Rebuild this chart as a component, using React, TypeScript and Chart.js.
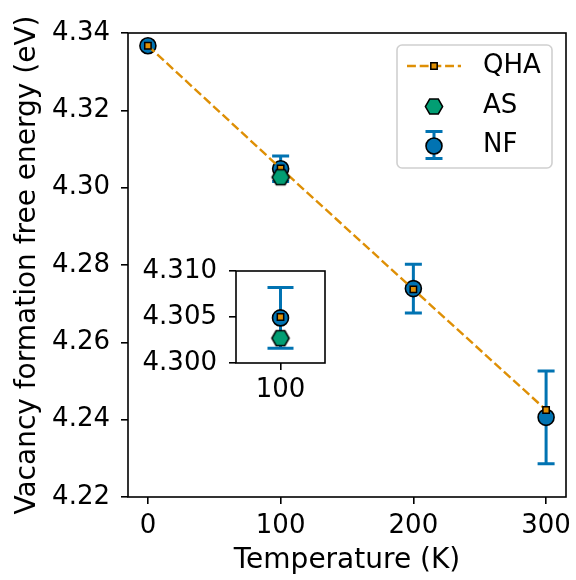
import React, { useEffect, useRef } from "react";
import { Chart, registerables } from "chart.js";

Chart.register(...registerables);

// ---- data ----
const temperatures = [0, 100, 200, 300];
const qhaEnergy = [4.3367, 4.305, 4.2737, 4.2425];
const nfEnergy = [4.3367, 4.3049, 4.2739, 4.2406];
const nfError = [0, 0.0033, 0.0063, 0.012];
const asTemperatures = [100];
const asEnergy = [4.3027];
const xTickValues = [0, 100, 200, 300];
const yTickValues = [4.22, 4.24, 4.26, 4.28, 4.3, 4.32, 4.34];
const insetTemperatures = [100];
const insetXTickValues = [100];
const insetYTickValues = [4.3, 4.305, 4.31];
const legendLabels = ["QHA", "AS", "NF"];

const BLUE = "#0173b2";
const ORANGE = "#de8f05";
const GREEN = "#029e73";
const FONT = "'DejaVu Sans', sans-serif";
const DASH = [8.9, 3.8];

Chart.defaults.font.family = FONT;
Chart.defaults.color = "#000";

function hexPath(ctx: CanvasRenderingContext2D, cx: number, cy: number, r: number) {
  ctx.beginPath();
  for (let i = 0; i < 6; i++) {
    const a = (Math.PI / 3) * i;
    const px = cx + r * Math.cos(a);
    const py = cy + r * Math.sin(a);
    if (i === 0) ctx.moveTo(px, py);
    else ctx.lineTo(px, py);
  }
  ctx.closePath();
}

function drawHex(ctx: CanvasRenderingContext2D, cx: number, cy: number) {
  hexPath(ctx, cx, cy, 8.6);
  ctx.fillStyle = GREEN;
  ctx.fill();
  ctx.lineWidth = 1.5;
  ctx.strokeStyle = "#000";
  ctx.setLineDash([]);
  ctx.stroke();
}

function makeHexImage() {
  const c = document.createElement("canvas");
  c.width = 24;
  c.height = 22;
  const g = c.getContext("2d")!;
  drawHex(g, 12, 11);
  return c;
}

function errorBarPlugin(points: { x: number; y: number; err: number }[], cap: number) {
  return {
    id: "errorBars",
    beforeDatasetsDraw(chart: any) {
      const { ctx, chartArea } = chart;
      const xs = chart.scales.x;
      const ys = chart.scales.y;
      ctx.save();
      ctx.beginPath();
      ctx.rect(chartArea.left, chartArea.top, chartArea.right - chartArea.left, chartArea.bottom - chartArea.top);
      ctx.clip();
      ctx.strokeStyle = BLUE;
      ctx.lineWidth = 3;
      ctx.lineCap = "butt";
      points.forEach((p) => {
        if (!p.err) return;
        const px = xs.getPixelForValue(p.x);
        const y1 = ys.getPixelForValue(p.y + p.err);
        const y2 = ys.getPixelForValue(p.y - p.err);
        ctx.beginPath();
        ctx.moveTo(px, y1);
        ctx.lineTo(px, y2);
        ctx.moveTo(px - cap, y1);
        ctx.lineTo(px + cap, y1);
        ctx.moveTo(px - cap, y2);
        ctx.lineTo(px + cap, y2);
        ctx.stroke();
      });
      ctx.restore();
    },
  };
}

const framePlugin = {
  id: "frame",
  afterDatasetsDraw(chart: any) {
    const { ctx, chartArea: a } = chart;
    ctx.save();
    ctx.strokeStyle = "#000";
    ctx.lineWidth = 1.6;
    ctx.setLineDash([]);
    ctx.strokeRect(a.left, a.top, a.right - a.left, a.bottom - a.top);
    ctx.restore();
  },
};

const legendPlugin = {
  id: "customLegend",
  afterDraw(chart: any) {
    const { ctx, chartArea: a } = chart;
    const bx = a.right - 169;
    const by = a.top + 12;
    const bw = 155;
    const bh = 123;
    ctx.save();
    ctx.beginPath();
    ctx.roundRect(bx, by, bw, bh, 5);
    ctx.fillStyle = "rgba(255,255,255,0.8)";
    ctx.fill();
    ctx.strokeStyle = "#d0d0d0";
    ctx.lineWidth = 1.6;
    ctx.stroke();

    const hx = bx + 37;
    const rows = [by + 21, by + 61.5, by + 100.5];

    // QHA
    ctx.strokeStyle = ORANGE;
    ctx.lineWidth = 2.4;
    ctx.setLineDash(DASH);
    ctx.beginPath();
    ctx.moveTo(bx + 10, rows[0]);
    ctx.lineTo(bx + 64, rows[0]);
    ctx.stroke();
    ctx.setLineDash([]);
    ctx.fillStyle = ORANGE;
    ctx.strokeStyle = "#000";
    ctx.lineWidth = 1.5;
    ctx.beginPath();
    ctx.rect(hx - 3.2, rows[0] - 3.2, 6.4, 6.4);
    ctx.fill();
    ctx.stroke();

    // AS
    drawHex(ctx, hx, rows[1]);

    // NF
    ctx.strokeStyle = BLUE;
    ctx.lineWidth = 3;
    ctx.beginPath();
    ctx.moveTo(hx, rows[2] - 14);
    ctx.lineTo(hx, rows[2] + 13);
    ctx.moveTo(hx - 8.5, rows[2] - 14);
    ctx.lineTo(hx + 8.5, rows[2] - 14);
    ctx.moveTo(hx - 8.5, rows[2] + 13);
    ctx.lineTo(hx + 8.5, rows[2] + 13);
    ctx.stroke();
    ctx.beginPath();
    ctx.arc(hx, rows[2] + 0.5, 8, 0, Math.PI * 2);
    ctx.fillStyle = BLUE;
    ctx.fill();
    ctx.strokeStyle = "#000";
    ctx.lineWidth = 1.6;
    ctx.stroke();

    ctx.fillStyle = "#000";
    ctx.font = `26px ${FONT}`;
    ctx.textAlign = "left";
    ctx.textBaseline = "middle";
    legendLabels.forEach((t, i) => ctx.fillText(t, bx + 86, rows[i]));
    ctx.restore();
  },
};

function zeroPad(s: any) {
  s.paddingLeft = 0;
  s.paddingRight = 0;
  s.paddingTop = 0;
  s.paddingBottom = 0;
}

export default function App() {
  const mainRef = useRef<HTMLCanvasElement>(null);
  const insetRef = useRef<HTMLCanvasElement>(null);

  useEffect(() => {
    const hexImg = makeHexImage();
    const hexImg2 = makeHexImage();
    const nfPoints = temperatures.map((t, i) => ({ x: t, y: nfEnergy[i], err: nfError[i] }));

    const main = new Chart(mainRef.current!, {
      type: "scatter",
      data: {
        datasets: [
          {
            label: "NF",
            data: temperatures.map((t, i) => ({ x: t, y: nfEnergy[i] })),
            pointStyle: "circle",
            pointRadius: 8,
            pointBackgroundColor: BLUE,
            pointBorderColor: "#000",
            pointBorderWidth: 1.6,
            showLine: false,
            order: 3,
          },
          {
            label: "QHA",
            data: temperatures.map((t, i) => ({ x: t, y: qhaEnergy[i] })),
            showLine: true,
            borderColor: ORANGE,
            borderWidth: 2.4,
            borderDash: DASH,
            pointStyle: "rect",
            pointRadius: 4.5,
            pointBackgroundColor: ORANGE,
            pointBorderColor: "#000",
            pointBorderWidth: 1.5,
            order: 2,
          },
          {
            label: "AS",
            data: asTemperatures.map((t, i) => ({ x: t, y: asEnergy[i] })),
            pointStyle: hexImg as any,
            pointRadius: 9,
            showLine: false,
            order: 1,
          },
        ],
      },
      options: {
        responsive: false,
        animation: false,
        devicePixelRatio: 1,
        events: [],
        layout: { padding: { left: 0, top: 33, right: 7, bottom: 0 } },
        plugins: { legend: { display: false }, tooltip: { enabled: false } },
        scales: {
          x: {
            type: "linear",
            min: -15,
            max: 315,
            afterBuildTicks: (s: any) => {
              s.ticks = xTickValues.map((v) => ({ value: v }));
            },
            afterFit: (s: any) => {
              s.height = 83;
              zeroPad(s);
            },
            grid: { display: true, drawOnChartArea: false, drawTicks: true, tickLength: 7, color: "#000", lineWidth: 1.6 },
            border: { display: false },
            ticks: { font: { size: 26 }, color: "#000", padding: 7, maxRotation: 0, callback: (v: any) => String(v) },
            title: { display: true, text: "Temperature (K)", font: { size: 28 }, color: "#000", padding: { top: 0, bottom: 2 } },
          },
          y: {
            type: "linear",
            min: 4.22,
            max: 4.34,
            afterBuildTicks: (s: any) => {
              s.ticks = yTickValues.map((v) => ({ value: v }));
            },
            afterFit: (s: any) => {
              s.width = 128;
              zeroPad(s);
            },
            grid: { display: true, drawOnChartArea: false, drawTicks: true, tickLength: 7, color: "#000", lineWidth: 1.6 },
            border: { display: false },
            ticks: { font: { size: 26 }, color: "#000", padding: 11, callback: (v: any) => Number(v).toFixed(2) },
            title: { display: true, text: "Vacancy formation free energy (eV)", font: { size: 28 }, color: "#000", padding: { top: 11, bottom: 0 } },
          },
        },
      },
      plugins: [errorBarPlugin(nfPoints, 8.5), framePlugin, legendPlugin],
    } as any);

    const insetIdx = insetTemperatures.map((t) => temperatures.indexOf(t));
    const inset = new Chart(insetRef.current!, {
      type: "scatter",
      data: {
        datasets: [
          {
            label: "NF",
            data: insetIdx.map((i) => ({ x: temperatures[i], y: nfEnergy[i] })),
            pointStyle: "circle",
            pointRadius: 8,
            pointBackgroundColor: BLUE,
            pointBorderColor: "#000",
            pointBorderWidth: 1.6,
            order: 3,
          },
          {
            label: "QHA",
            data: insetIdx.map((i) => ({ x: temperatures[i], y: qhaEnergy[i] })),
            showLine: false,
            pointStyle: "rect",
            pointRadius: 4.5,
            pointBackgroundColor: ORANGE,
            pointBorderColor: "#000",
            pointBorderWidth: 1.5,
            order: 2,
          },
          {
            label: "AS",
            data: asTemperatures.map((t, i) => ({ x: t, y: asEnergy[i] })),
            pointStyle: hexImg2 as any,
            pointRadius: 9,
            order: 1,
          },
        ],
      },
      options: {
        responsive: false,
        animation: false,
        devicePixelRatio: 1,
        events: [],
        layout: { padding: { left: 0, top: 26, right: 5, bottom: 0 } },
        plugins: { legend: { display: false }, tooltip: { enabled: false } },
        scales: {
          x: {
            type: "linear",
            min: 95,
            max: 105,
            afterBuildTicks: (s: any) => {
              s.ticks = insetXTickValues.map((v) => ({ value: v }));
            },
            afterFit: (s: any) => {
              s.height = 52;
              zeroPad(s);
            },
            grid: { display: true, drawOnChartArea: false, drawTicks: true, tickLength: 7, color: "#000", lineWidth: 1.6 },
            border: { display: false },
            ticks: { font: { size: 26 }, color: "#000", padding: 5, maxRotation: 0, callback: (v: any) => String(v) },
          },
          y: {
            type: "linear",
            min: 4.3,
            max: 4.31,
            afterBuildTicks: (s: any) => {
              s.ticks = insetYTickValues.map((v) => ({ value: v }));
            },
            afterFit: (s: any) => {
              s.width = 116;
              zeroPad(s);
            },
            grid: { display: true, drawOnChartArea: false, drawTicks: true, tickLength: 7, color: "#000", lineWidth: 1.6 },
            border: { display: false },
            ticks: { font: { size: 26 }, color: "#000", padding: 12, callback: (v: any) => Number(v).toFixed(3) },
          },
        },
      },
      plugins: [errorBarPlugin(insetIdx.map((i) => nfPoints[i]), 13), framePlugin],
    } as any);

    return () => {
      main.destroy();
      inset.destroy();
    };
  }, []);

  return (
    <div style={{ position: "absolute", left: 0, top: 0, width: 576, height: 580, background: "#fff" }}>
      <canvas ref={mainRef} width={576} height={580} style={{ position: "absolute", left: 0, top: 0 }} />
      <canvas ref={insetRef} width={215} height={170} style={{ position: "absolute", left: 120, top: 245 }} />
    </div>
  );
}
